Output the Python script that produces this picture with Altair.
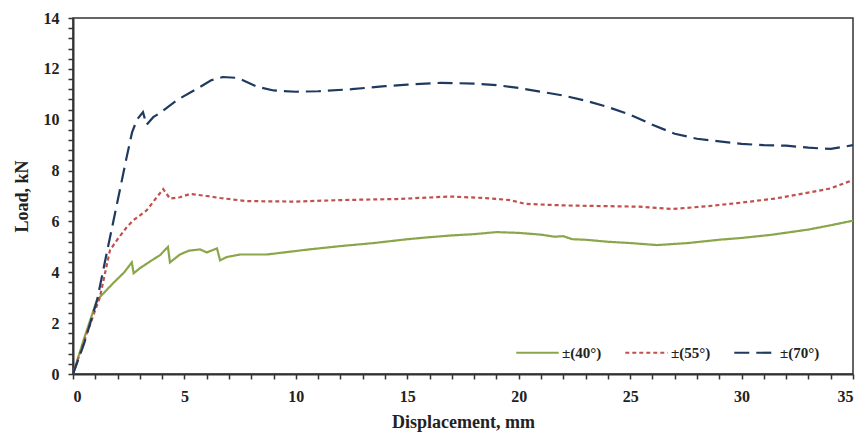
import altair as alt
import pandas as pd

# ±(40°)
x40 = [0, 0.5, 1.07, 1.8, 2.3, 2.64, 2.72, 3.0, 3.5, 3.9, 4.26, 4.35, 4.8, 5.2, 5.7, 6.0, 6.46, 6.6, 6.9, 7.5, 8.7,
       10.6, 12.0, 13.5, 15.0, 16.0, 17.0, 18.0, 19.0, 20.0, 21.0, 21.6, 22.0, 22.4, 23.0, 24.0, 25.0, 26.2, 27.6,
       29.0, 30.0, 31.3, 33.0, 34.0, 35.0]
y40 = [0, 1.4, 2.9, 3.57, 4.0, 4.39, 3.96, 4.16, 4.45, 4.67, 5.0, 4.39, 4.7, 4.85, 4.9, 4.78, 4.94, 4.47, 4.6, 4.7, 4.7,
       4.9, 5.03, 5.15, 5.3, 5.38, 5.45, 5.5, 5.58, 5.55, 5.48, 5.4, 5.42, 5.3, 5.28, 5.2, 5.15, 5.07, 5.15,
       5.28, 5.35, 5.47, 5.68, 5.85, 6.03]

# ±(55°)
x55 = [0, 0.5, 1.2, 1.66, 2.0, 2.4, 2.7, 3.3, 3.75, 4.05, 4.35, 4.8, 5.25, 6.0, 6.6, 7.8, 10.0, 12.0, 14.5, 16.9,
       18.5, 19.6, 20.3, 22.0, 24.0, 25.4, 26.9, 28.5, 29.8, 31.5, 32.8, 34.0, 35.0]
y55 = [0, 1.3, 3.0, 4.87, 5.3, 5.76, 6.04, 6.43, 6.94, 7.27, 6.9, 6.95, 7.08, 7.0, 6.92, 6.8, 6.78, 6.84, 6.88, 6.98,
       6.92, 6.84, 6.69, 6.63, 6.6, 6.58, 6.49, 6.6, 6.72, 6.9, 7.1, 7.3, 7.63]

# ±(70°)
x70 = [0, 0.5, 1.08, 1.5, 2.0, 2.4, 2.65, 2.87, 3.14, 3.3, 3.6, 3.9, 4.66, 5.7, 6.2, 6.73, 7.3, 7.6, 8.25, 9.0,
       10.0, 11.0, 12.5, 14.0, 15.0, 16.5, 18.0, 19.0, 20.0, 21.0, 22.0, 23.0, 24.0, 25.0, 26.0, 27.0, 28.0,
       29.0, 30.0, 31.0, 32.0, 33.0, 34.0, 35.0]
y70 = [0, 1.2, 2.9, 4.7, 6.8, 8.5, 9.5, 10.0, 10.3, 9.8, 10.1, 10.26, 10.77, 11.29, 11.55, 11.68, 11.65, 11.56, 11.3, 11.15,
       11.1, 11.12, 11.2, 11.32, 11.38, 11.45, 11.42, 11.36, 11.25, 11.1, 10.95, 10.75, 10.5, 10.2, 9.8, 9.45, 9.25,
       9.15, 9.05, 9.0, 8.98, 8.9, 8.85, 9.0]

series = ["±(40°)", "±(55°)", "±(70°)"]
colors = ["#8aa64a", "#c0504d", "#1f3a5f"]
dashes = [[1, 0], [4, 3], [15, 7]]

rows = []
for name, xs, ys in zip(series, [x40, x55, x70], [y40, y55, y70]):
    for i, (a, b) in enumerate(zip(xs, ys)):
        rows.append({"Series": name, "Displacement": a, "Load": b, "idx": i})
df = pd.DataFrame(rows)

yvals = [round(i * 0.4, 1) for i in range(36)]
xvals = list(range(36))

font = "Liberation Serif"

chart = alt.Chart(df).mark_line(strokeWidth=2.2).encode(
    x=alt.X("Displacement:Q", title="Displacement, mm",
            scale=alt.Scale(domain=[0, 35], nice=False, zero=True),
            axis=alt.Axis(values=xvals, labelExpr="datum.value % 5 == 0 ? datum.label : ''",
                          grid=False, tickSize=5, labelPadding=9, titlePadding=9)),
    y=alt.Y("Load:Q", title="Load, kN",
            scale=alt.Scale(domain=[0, 14], nice=False),
            axis=alt.Axis(values=yvals,
                          labelExpr="abs(datum.value % 2) < 0.01 || abs(datum.value % 2 - 2) < 0.01 ? format(datum.value, 'd') : ''",
                          grid=False, tickSize=5, labelPadding=9, titlePadding=12)),
    color=alt.Color("Series:N", scale=alt.Scale(domain=series, range=colors),
                    legend=alt.Legend(title=None, orient="none", direction="horizontal",
                                      legendX=442, legendY=312, symbolType="stroke",
                                      symbolSize=1800, symbolStrokeWidth=2.2,
                                      labelFont=font, labelFontSize=15, labelFontWeight="bold",
                                      labelColor="#222222",
                                      columnPadding=18, labelOffset=2)),
    strokeDash=alt.StrokeDash("Series:N", scale=alt.Scale(domain=series, range=dashes), legend=None),
    order="idx:Q",
).properties(
    width=780, height=356,
    autosize=alt.AutoSizeParams(type="none"),
    padding={"left": 65, "top": 10, "right": 6, "bottom": 60},
).configure_view(
    stroke="#333333", strokeWidth=1.5
).configure_axis(
    domainColor="#333333", domainWidth=2, tickColor="#333333", tickWidth=1.5,
    labelFont=font, labelFontSize=16, labelFontWeight="bold", labelColor="#222222",
    titleFont=font, titleFontSize=18, titleFontWeight="bold", titleColor="#222222",
)

chart.save("out.html", embed_options={"renderer": "svg", "actions": False})
